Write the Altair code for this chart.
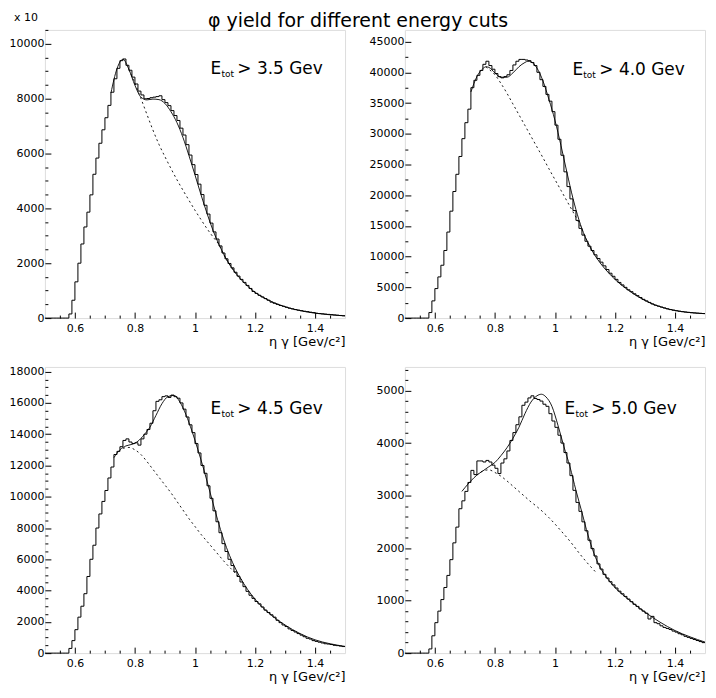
import altair as alt
import pandas as pd

FONT = "DejaVu Sans"

# ---------------- common x binning ----------------
X_DOMAIN = [0.5, 1.5]
BIN_START = 0.50
BIN_WIDTH = 0.01
N_BINS = 100
edges = [round(BIN_START + BIN_WIDTH * i, 2) for i in range(N_BINS + 1)]

X_LABELS = [0.6, 0.8, 1.0, 1.2, 1.4]
X_TICKS_MAJOR = [0.6, 0.8, 1.0, 1.2, 1.4]
X_TICKS_MINOR = [0.55, 0.65, 0.7, 0.75, 0.85, 0.9, 0.95, 1.05, 1.1, 1.15, 1.25, 1.3, 1.35, 1.45]
X_TITLE = "η  γ   [Gev/c²]"

# ---------------- panel 1 : E_tot > 3.5 GeV (x 10) ----------------
h1 = [0, 0, 0, 0, 0, 0, 0, 0,
      150, 650, 1320, 2000, 2700, 3320, 3860, 4490, 5240, 5830,
      6370, 6860, 7300, 7750, 8230, 8720, 9100, 9380, 9440, 9210,
      9030, 8780, 8530, 8270, 8130, 7990, 8000, 8030, 8050, 8070,
      8100, 7960, 7850, 7740, 7560, 7380, 7200, 6920, 6670, 6320,
      5940, 5590, 5230, 4880, 4500, 4110, 3790, 3460, 3140, 2880,
      2630, 2370, 2160, 1990, 1830, 1670, 1530, 1410, 1300, 1190,
      1080, 970, 900, 830, 770, 710, 650, 580, 540, 500,
      460, 430, 395, 360, 335, 310, 290, 270, 250, 235,
      215, 200, 175, 165, 155, 145, 135, 125, 115, 105,
      95, 85]
f1_x = [0.72, 0.74, 0.76, 0.78, 0.80, 0.82, 0.84, 0.86, 0.88, 0.90, 0.92, 0.94, 0.96, 0.98,
        1.00, 1.02, 1.04, 1.06, 1.08, 1.10, 1.12, 1.14, 1.16, 1.18, 1.20, 1.24, 1.28, 1.32,
        1.36, 1.40, 1.44, 1.48, 1.50]
f1_y = [8200, 9080, 9430, 9060, 8480, 8050, 7950, 7980, 7960, 7820, 7520, 7120, 6580, 5920,
        5220, 4500, 3820, 3200, 2680, 2240, 1880, 1580, 1330, 1120, 940, 680, 490, 350,
        250, 180, 130, 95, 80]
b1_x = [0.78, 0.80, 0.82, 0.84, 0.86, 0.88, 0.90, 0.92, 0.94, 0.96, 0.98, 1.00, 1.02, 1.04,
        1.06, 1.08, 1.10, 1.12, 1.14]
b1_y = [9050, 8550, 8000, 7420, 6850, 6330, 5880, 5450, 5040, 4660, 4290, 3930, 3590, 3260,
        2960, 2670, 2230, 1870, 1570]
y1_max = 10500
y1_major = [0, 2000, 4000, 6000, 8000, 10000]
y1_minor = [500, 1000, 1500, 2500, 3000, 3500, 4500, 5000, 5500, 6500, 7000, 7500, 8500, 9000, 9500, 10500]

# ---------------- panel 2 : E_tot > 4.0 GeV ----------------
h2 = [0, 0, 0, 0, 0, 0, 0, 0,
      900, 2800, 4800, 6700, 8600, 11000, 14000, 17400, 20600, 23400,
      26300, 29200, 31800, 34000, 37500, 38700, 39500, 40300, 41300, 41800,
      41100, 40500, 39800, 39300, 39100, 39300, 39600, 40300, 41200, 41800,
      42100, 42100, 42000, 41900, 41600, 41100, 40000, 38800, 37700, 36400,
      35300, 33600, 31400, 29100, 26500, 23800, 21400, 19400, 17500, 15900,
      14600, 13500, 12500, 11700, 11000, 10300, 9700, 9100, 8500, 7900,
      7300, 6800, 6300, 5800, 5400, 5000, 4600, 4300, 3950, 3650,
      3350, 3050, 2800, 2550, 2300, 2100, 1950, 1800, 1650, 1500,
      1380, 1280, 1190, 1110, 1040, 980, 930, 880, 840, 800,
      770, 740]
f2_x = [0.72, 0.74, 0.76, 0.77, 0.78, 0.80, 0.82, 0.84, 0.86, 0.88, 0.90, 0.91, 0.92, 0.94,
        0.96, 0.98, 1.00, 1.02, 1.04, 1.06, 1.08, 1.10, 1.12, 1.14, 1.16, 1.18, 1.20, 1.24,
        1.28, 1.32, 1.36, 1.40, 1.44, 1.48, 1.50]
f2_y = [36800, 39300, 40600, 40900, 40800, 39900, 39200, 39200, 39900, 40900, 41600, 41800, 41700, 40700,
        38600, 35600, 32200, 28100, 23700, 19500, 16000, 13300, 11300, 9700, 8400, 7300, 6300, 4700,
        3400, 2400, 1700, 1250, 950, 780, 720]
b2_x = [0.77, 0.78, 0.80, 0.82, 0.84, 0.86, 0.88, 0.90, 0.92, 0.94, 0.96, 0.98, 1.00, 1.02,
        1.04, 1.06, 1.08, 1.10, 1.12]
b2_y = [40900, 40500, 39600, 38200, 36600, 34850, 33100, 31350, 29600, 27850, 26100, 24300, 22550, 20800,
        19050, 17300, 15500, 13300, 11300]
y2_max = 46900
y2_major = [0, 5000, 10000, 15000, 20000, 25000, 30000, 35000, 40000, 45000]
y2_minor = [2500, 7500, 12500, 17500, 22500, 27500, 32500, 37500, 42500]

# ---------------- panel 3 : E_tot > 4.5 GeV ----------------
h3 = [0, 0, 0, 0, 0, 0, 0, 0,
      300, 800, 1500, 2300, 3000, 3800, 4900, 6000, 6900, 8000,
      8900, 9700, 10400, 11200, 11900, 12700, 12900, 13200, 13600, 13700,
      13500, 13400, 13450, 13300, 13700, 14000, 14300, 14700, 15500, 16100,
      16200, 16400, 16450, 16350, 16500, 16400, 16300, 16000, 15600, 15100,
      14600, 14100, 13400, 12800, 12000, 11500, 10700, 9900, 9100, 8400,
      7700, 7000, 6500, 6000, 5600, 5200, 4900, 4550, 4250, 3950,
      3700, 3500, 3300, 3150, 2950, 2750, 2600, 2450, 2300, 2100,
      1950, 1800, 1700, 1550, 1450, 1350, 1250, 1150, 1050, 950,
      900, 800, 750, 700, 650, 600, 580, 550, 500, 480,
      450, 420]
f3_x = [0.73, 0.75, 0.77, 0.79, 0.81, 0.83, 0.85, 0.87, 0.89, 0.91, 0.93, 0.95, 0.97, 0.99,
        1.01, 1.03, 1.05, 1.07, 1.09, 1.11, 1.13, 1.15, 1.20, 1.25, 1.30, 1.35, 1.40, 1.45, 1.50]
f3_y = [12500, 13000, 13250, 13350, 13550, 13950, 14450, 15200, 15950, 16400, 16480, 16050, 15250, 14200,
        13000, 11700, 10300, 8900, 7600, 6500, 5600, 4850, 3450, 2500, 1800, 1250, 850, 600, 430]
b3_x = [0.76, 0.78, 0.80, 0.82, 0.84, 0.86, 0.88, 0.90, 0.92, 0.94, 0.96, 0.98, 1.00, 1.02,
        1.04, 1.06, 1.08, 1.10, 1.12, 1.14, 1.16]
b3_y = [13100, 13150, 13000, 12700, 12250, 11750, 11250, 10750, 10250, 9700, 9150, 8600, 8100, 7600,
        7150, 6700, 6250, 5800, 5400, 5000, 4600]
y3_max = 18300
y3_major = [0, 2000, 4000, 6000, 8000, 10000, 12000, 14000, 16000, 18000]
y3_minor = [500, 1000, 1500, 2500, 3000, 3500, 4500, 5000, 5500, 6500, 7000, 7500, 8500, 9000, 9500,
            10500, 11000, 11500, 12500, 13000, 13500, 14500, 15000, 15500, 16500, 17000, 17500]

# ---------------- panel 4 : E_tot > 5.0 GeV ----------------
h4 = [0, 0, 0, 0, 0, 0, 0, 0,
      80, 330, 580, 800, 1020, 1250, 1480, 1780, 2100, 2400,
      2750, 2900, 3080, 3250, 3480, 3400, 3660, 3660, 3640, 3670,
      3640, 3580, 3520, 3420, 3620, 3700, 3850, 4050, 4200, 4350,
      4500, 4720, 4780, 4860, 4900, 4850, 4830, 4800, 4740, 4700,
      4560, 4420, 4300, 4150, 4000, 3820, 3620, 3380, 3100, 2870,
      2700, 2500, 2330, 2150, 1990, 1850, 1700, 1600, 1500, 1430,
      1360, 1300, 1240, 1180, 1130, 1080, 1030, 980, 930, 890,
      840, 800, 760, 650, 700, 580, 560, 520, 490, 470,
      450, 420, 400, 370, 350, 320, 300, 280, 260, 240,
      220, 200]
f4_x = [0.69, 0.70, 0.72, 0.74, 0.76, 0.78, 0.80, 0.82, 0.84, 0.86, 0.88, 0.90, 0.92, 0.94,
        0.955, 0.97, 0.99, 1.01, 1.03, 1.05, 1.07, 1.09, 1.11, 1.13, 1.15, 1.17, 1.20, 1.25,
        1.30, 1.35, 1.40, 1.45, 1.50]
f4_y = [3080, 3150, 3280, 3390, 3470, 3550, 3630, 3760, 3910, 4090, 4300, 4560, 4780, 4900,
        4930, 4880, 4700, 4340, 3930, 3550, 3100, 2680, 2250, 1900, 1640, 1460, 1250, 1000,
        780, 590, 430, 310, 210]
b4_x = [0.74, 0.76, 0.78, 0.80, 0.82, 0.84, 0.86, 0.88, 0.90, 0.92, 0.94, 0.96, 0.98, 1.00,
        1.02, 1.04, 1.06, 1.08, 1.10, 1.12, 1.14]
b4_y = [3390, 3470, 3490, 3440, 3370, 3280, 3180, 3080, 2980, 2880, 2790, 2690, 2580, 2460,
        2330, 2200, 2060, 1910, 1770, 1640, 1520]
y4_max = 5450
y4_major = [0, 1000, 2000, 3000, 4000, 5000]
y4_minor = [200, 400, 600, 800, 1200, 1400, 1600, 1800, 2200, 2400, 2600, 2800, 3200, 3400,
            3600, 3800, 4200, 4400, 4600, 4800, 5200, 5400]

CUTS = ["> 3.5 Gev", "> 4.0 Gev", "> 4.5 Gev", "> 5.0 Gev"]
TITLE = "φ yield for different energy cuts"

W = 301
H_TOP = 289
H_BOT = 287


def panel(hist, fx, fy, bx, by, ymax, ymaj, ymin, cut, h, ex, ey, scale_note=None):
    xs = alt.Scale(domain=X_DOMAIN, nice=False, zero=False)
    ys = alt.Scale(domain=[0, ymax], nice=False, zero=True)
    hdf = pd.DataFrame({"m": edges, "n": list(hist) + [hist[-1]]})
    fdf = pd.DataFrame({"m": fx, "n": fy})
    bdf = pd.DataFrame({"m": bx, "n": by})

    lab_x = alt.Axis(orient="bottom", values=X_LABELS, format="~g", ticks=False, domain=False,
                     grid=False, labelPadding=4, labelFont=FONT, labelFontSize=11,
                     labelColor="black", labelFlush=False, labelOverlap=False,
                     title=X_TITLE, titleFont=FONT, titleFontSize=13, titleFontWeight="normal",
                     titleColor="black", titleX=W, titleY=23, titleAlign="right",
                     titleBaseline="middle")
    lab_y = alt.Axis(orient="left", values=ymaj, format="d", ticks=False, domain=False,
                     grid=False, labelPadding=1, labelFont=FONT, labelFontSize=11,
                     labelColor="black", labelFlush=False, labelOverlap=False, title=None)
    maj_x = alt.Axis(orient="bottom", values=X_TICKS_MAJOR, labels=False, domain=False, grid=False,
                     ticks=True, tickSize=6, offset=-6, tickColor="black", tickWidth=1, title=None)
    maj_y = alt.Axis(orient="left", values=ymaj, labels=False, domain=False, grid=False,
                     ticks=True, tickSize=6, offset=-6, tickColor="black", tickWidth=1, title=None)
    min_x = alt.Axis(orient="bottom", values=X_TICKS_MINOR, labels=False, domain=False, grid=False,
                     ticks=True, tickSize=3, offset=-3, tickColor="black", tickWidth=1, title=None)
    min_y = alt.Axis(orient="left", values=ymin, labels=False, domain=False, grid=False,
                     ticks=True, tickSize=3, offset=-3, tickColor="black", tickWidth=1, title=None)

    hist_l = alt.Chart(hdf).mark_line(interpolate="step-after", color="black", strokeWidth=1).encode(
        x=alt.X("m:Q", scale=xs, axis=lab_x), y=alt.Y("n:Q", scale=ys, axis=lab_y))
    fit_l = alt.Chart(fdf).mark_line(interpolate="monotone", color="black", strokeWidth=0.9).encode(
        x=alt.X("m:Q", scale=xs, axis=maj_x), y=alt.Y("n:Q", scale=ys, axis=maj_y))
    bg_l = alt.Chart(bdf).mark_line(interpolate="monotone", color="black", strokeWidth=0.9,
                                    strokeDash=[2, 3]).encode(
        x=alt.X("m:Q", scale=xs, axis=min_x), y=alt.Y("n:Q", scale=ys, axis=min_y))

    t_e = alt.Chart(pd.DataFrame({"t": ["E"]})).mark_text(
        font=FONT, fontSize=17, align="left", baseline="alphabetic", color="black").encode(
        text="t:N", x=alt.value(ex), y=alt.value(ey))
    t_sub = alt.Chart(pd.DataFrame({"t": ["tot"]})).mark_text(
        font=FONT, fontSize=9, align="left", baseline="alphabetic", color="black").encode(
        text="t:N", x=alt.value(ex + 11), y=alt.value(ey + 3))
    t_cut = alt.Chart(pd.DataFrame({"t": [cut]})).mark_text(
        font=FONT, fontSize=17, align="left", baseline="alphabetic", color="black").encode(
        text="t:N", x=alt.value(ex + 27), y=alt.value(ey))
    layers = [hist_l, fit_l, bg_l, t_e, t_sub, t_cut]
    if scale_note:
        layers.append(alt.Chart(pd.DataFrame({"t": [scale_note]})).mark_text(
            font=FONT, fontSize=11, align="center", baseline="middle", color="black").encode(
            text="t:N", x=alt.value(-19), y=alt.value(-12)))
    return alt.layer(*layers).resolve_axis(x="independent", y="independent").properties(
        width=W, height=h)


p1 = panel(h1, f1_x, f1_y, b1_x, b1_y, y1_max, y1_major, y1_minor, CUTS[0], H_TOP, 166, 44, "x 10")
p2 = panel(h2, f2_x, f2_y, b2_x, b2_y, y2_max, y2_major, y2_minor, CUTS[1], H_TOP, 168, 45)
p3 = panel(h3, f3_x, f3_y, b3_x, b3_y, y3_max, y3_major, y3_minor, CUTS[2], H_BOT, 166, 47)
p4 = panel(h4, f4_x, f4_y, b4_x, b4_y, y4_max, y4_major, y4_minor, CUTS[3], H_BOT, 160, 47)

chart = alt.concat(
    p1, p2, p3, p4, columns=2,
    spacing={"row": 49, "column": 60}, bounds="flush",
).properties(
    title=alt.TitleParams(TITLE, anchor="middle", frame="bounds", font=FONT, fontSize=19,
                          fontWeight="normal", color="black", offset=-20),
    padding={"left": 0, "top": 2, "right": 0, "bottom": 0},
).configure_view(stroke="black", strokeWidth=1).configure(background="white")

chart.save("out.html", embed_options={"renderer": "svg", "actions": False})
